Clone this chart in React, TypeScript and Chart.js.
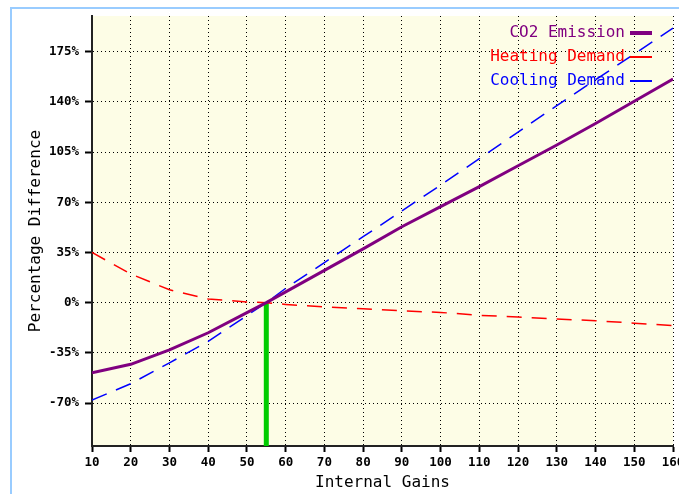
import React, { useEffect, useRef } from "react";
import { Chart, registerables } from "chart.js";

Chart.register(...registerables);

// ---- data ----
const xValues = [10, 20, 30, 40, 50, 55, 60, 70, 80, 90, 100, 110, 120, 130, 140, 150, 160];
const co2Emission = [-49, -43, -33, -21, -7, 0, 7.5, 22.5, 37.5, 53, 67, 81, 95.5, 110, 125, 140.5, 156];
const heatingDemand = [35, 20, 9, 2.5, 0.5, 0, -1.2, -3, -4.3, -5.7, -6.8, -8.8, -10, -11.4, -12.6, -14.3, -16];
const coolingDemand = [-68, -56.5, -42, -27, -9, 0, 10, 28, 46, 64, 82, 100.5, 119, 137.5, 155.5, 173.5, 191.5];
const baseCaseX = [55, 55];
const baseCaseY = [0, -100];
const yTickValues = [-70, -35, 0, 35, 70, 105, 140, 175];
const seriesLabels = ["CO2 Emission", "Heating Demand", "Cooling Demand"];
const xTitle = "Internal Gains";
const yTitle = "Percentage Difference";

const MONO = "'DejaVu Sans Mono', monospace";

const framePlugin = {
  id: "frameAndBg",
  beforeDraw(chart: any) {
    const { ctx, chartArea, width, height } = chart;
    ctx.save();
    ctx.fillStyle = "#ffffff";
    ctx.fillRect(0, 0, width, height);
    ctx.fillStyle = "#99ccff";
    ctx.fillRect(10, 7, width - 10, 2);
    ctx.fillRect(10, 7, 2, height - 7);
    ctx.fillStyle = "#fdfde6";
    ctx.fillRect(chartArea.left, chartArea.top, chartArea.right - chartArea.left, chartArea.bottom - chartArea.top);
    ctx.restore();
  },
};

const legendPlugin = {
  id: "rightLegend",
  afterDatasetsDraw(chart: any) {
    const { ctx } = chart;
    const textRight = 625;
    const lineStart = 630;
    const lineEnd = 652;
    const rows = [33, 57, 81];
    ctx.save();
    ctx.font = `16px ${MONO}`;
    ctx.textAlign = "right";
    ctx.textBaseline = "middle";
    let r = 0;
    chart.data.datasets.forEach((ds: any) => {
      if (!ds.label) return;
      const y = rows[r++];
      ctx.fillStyle = ds.borderColor;
      ctx.fillText(ds.label, textRight, y);
      ctx.strokeStyle = ds.borderColor;
      ctx.lineWidth = ds.legendWidth;
      ctx.setLineDash([]);
      ctx.beginPath();
      ctx.moveTo(lineStart, y);
      ctx.lineTo(lineEnd, y);
      ctx.stroke();
    });
    ctx.restore();
  },
};

function toPoints(xs: number[], ys: number[]) {
  return xs.map((x, i) => ({ x, y: ys[i] }));
}

export default function App() {
  const ref = useRef<HTMLCanvasElement | null>(null);

  useEffect(() => {
    if (!ref.current) return;
    const chart = new Chart(ref.current, {
      type: "line",
      data: {
        datasets: [
          {
            label: seriesLabels[0],
            data: toPoints(xValues, co2Emission),
            borderColor: "#800080",
            borderWidth: 3,
            pointRadius: 0,
            tension: 0,
            legendWidth: 4,
          } as any,
          {
            label: seriesLabels[1],
            data: toPoints(xValues, heatingDemand),
            borderColor: "#ff0000",
            borderWidth: 1.5,
            borderDash: [15, 10],
            pointRadius: 0,
            tension: 0,
            legendWidth: 2,
          } as any,
          {
            label: seriesLabels[2],
            data: toPoints(xValues, coolingDemand),
            borderColor: "#0000ff",
            borderWidth: 1.5,
            borderDash: [16, 10],
            pointRadius: 0,
            tension: 0,
            legendWidth: 2,
          } as any,
          {
            data: toPoints(baseCaseX, baseCaseY),
            borderColor: "#00cc00",
            borderWidth: 5,
            pointRadius: 0,
            borderCapStyle: "butt",
          } as any,
        ],
      },
      options: {
        responsive: false,
        animation: false,
        devicePixelRatio: 1,
        layout: { padding: { left: 0, top: 16, right: 6, bottom: 0 } },
        plugins: {
          legend: { display: false },
          tooltip: { enabled: false },
          title: { display: false },
        },
        scales: {
          x: {
            type: "linear",
            min: 10,
            max: 160,
            ticks: {
              stepSize: 10,
              autoSkip: false,
              maxRotation: 0,
              padding: 3,
              color: "#000",
              font: { family: MONO, size: 12.5, weight: "bold" },
            },
            grid: {
              color: "#000",
              lineWidth: 1,
              tickLength: 6,
              tickWidth: 2,
              tickColor: "#000",
              tickBorderDash: [],
            },
            border: { color: "#222", width: 2, dash: [1, 3] },
            title: {
              display: true,
              text: xTitle,
              color: "#000",
              font: { family: MONO, size: 16 },
              padding: { top: 0, bottom: 2 },
            },
            afterFit: (s: any) => {
              s.height = 48;
              s.paddingLeft = 0;
              s.paddingRight = 0;
            },
          },
          y: {
            type: "linear",
            min: -100,
            max: 200,
            afterBuildTicks: (s: any) => {
              s.ticks = yTickValues.map((v) => ({ value: v }));
            },
            ticks: {
              padding: 6,
              color: "#000",
              font: { family: MONO, size: 12.5, weight: "bold" },
              callback: (v: any) => `${v}%`,
            },
            grid: {
              color: "#000",
              lineWidth: 1,
              tickLength: 7,
              tickWidth: 2,
              tickColor: "#000",
              tickBorderDash: [],
            },
            border: { color: "#222", width: 2, dash: [1, 3] },
            title: {
              display: true,
              text: yTitle,
              color: "#000",
              font: { family: MONO, size: 16 },
              padding: { top: 26, bottom: 0 },
            },
            afterFit: (s: any) => {
              s.width = 92;
              s.paddingTop = 0;
              s.paddingBottom = 0;
            },
          },
        },
      } as any,
      plugins: [framePlugin, legendPlugin],
    });
    return () => chart.destroy();
  }, []);

  return (
    <div style={{ position: "absolute", left: 0, top: 0, width: 679, height: 494, overflow: "hidden" }}>
      <canvas ref={ref} width={679} height={494} style={{ display: "block", width: 679, height: 494 }} />
    </div>
  );
}
